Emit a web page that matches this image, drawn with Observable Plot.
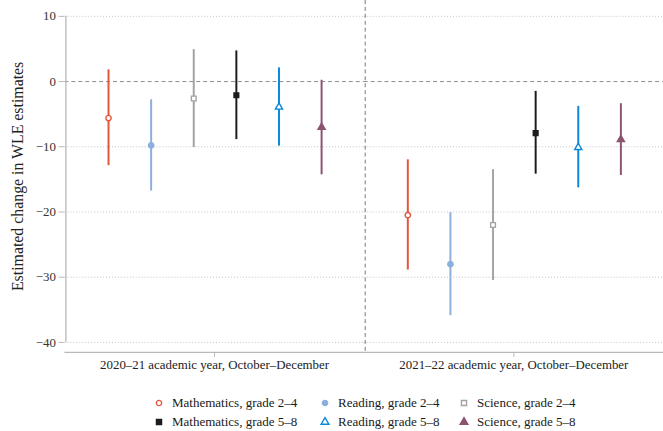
<!DOCTYPE html>
<html><head><meta charset="utf-8">
<script src="https://cdn.jsdelivr.net/npm/d3@7"></script>
<script src="https://cdn.jsdelivr.net/npm/@observablehq/plot@0.6"></script>
<style>
html,body{margin:0;padding:0;background:#fff;overflow:hidden;width:663px;height:431px}
#wrap{position:relative;width:663px;height:431px;overflow:hidden;font-family:"Liberation Serif","Times New Roman",serif;color:#1a1a1a}
#legend{position:absolute;left:0;top:385px;width:663px;height:46px}
.item{position:absolute;white-space:nowrap;display:flex;align-items:center}
.item span{font-family:"Liberation Serif","Times New Roman",serif;font-size:13px;line-height:16px;color:#1a1a1a}
.item svg{overflow:visible}
</style></head><body><div id="wrap"><div id="chart"></div><div id="legend"></div></div>
<script>
const PERIODS = ["2020\u201321 academic year, October\u2013December", "2021\u201322 academic year, October\u2013December"];
const SERIES = ["Mathematics, grade 2\u20134", "Reading, grade 2\u20134", "Science, grade 2\u20134",
                "Mathematics, grade 5\u20138", "Reading, grade 5\u20138", "Science, grade 5\u20138"];
const COLORS = ["#e4533b", "#8cafdc", "#a3a3a3", "#1c1c1c", "#0a88d8", "#8c5471"];
const SYMBOLS = ["circle", "circle", "square", "square", "triangle", "triangle"];
const HOLLOW = [true, false, true, false, true, false];

const EST_2020_21 = [-5.6, -9.8, -2.6, -2.1, -3.9, -7.0];
const LOW_2020_21 = [-12.9, -16.8, -10.1, -8.9, -9.9, -14.3];
const HIGH_2020_21 = [1.8, -2.8, 4.9, 4.7, 2.1, 0.2];
const EST_2021_22 = [-20.5, -28.0, -22.0, -7.9, -10.1, -8.9];
const LOW_2021_22 = [-28.9, -35.9, -30.5, -14.2, -16.3, -14.4];
const HIGH_2021_22 = [-12.0, -20.1, -13.5, -1.5, -3.8, -3.4];

const Y_TICKS = [-40, -30, -20, -10, 0, 10];
const GRID_TICKS = [-40, -30, -20, -10, 10];
const Y_LABEL = "Estimated change in WLE estimates";
const EDGE_LEFT = "\u2039edge", EDGE_RIGHT = "edge\u203a";

const EST = [EST_2020_21, EST_2021_22];
const LOW = [LOW_2020_21, LOW_2021_22];
const HIGH = [HIGH_2020_21, HIGH_2021_22];

const rows = [];
PERIODS.forEach((p, k) => SERIES.forEach((s, i) => rows.push({
  period: p, series: s, est: EST[k][i], lo: LOW[k][i], hi: HIGH[k][i],
  color: COLORS[i], symbol: SYMBOLS[i], fill: HOLLOW[i] ? "white" : COLORS[i]
})));

const yMin = d3.min(Y_TICKS), yMax = d3.max(Y_TICKS);
const axisLine = [{period: PERIODS[0], lo: yMin, hi: yMax}];
const divider = [{period: PERIODS[1]}];

const chart = Plot.plot({
  width: 669,
  height: 385,
  marginLeft: 65,
  marginRight: 0,
  marginTop: 0,
  marginBottom: 30,
  style: {fontFamily: "'Liberation Serif', 'Times New Roman', serif", fontSize: "13px", background: "white", color: "#333", overflow: "visible"},
  fx: {domain: PERIODS, padding: 0, label: null},
  x: {type: "point", domain: [EDGE_LEFT, ...SERIES, EDGE_RIGHT], padding: 0, axis: null},
  y: {domain: [yMin, yMax], insetTop: 16, insetBottom: 10},
  marks: [
    Plot.gridY({ticks: GRID_TICKS, stroke: "#c4c4c4", strokeOpacity: 1, strokeDasharray: "1,2"}),
    Plot.ruleY([0], {stroke: "#8c8c8c", strokeDasharray: "4,3"}),
    Plot.ruleX(axisLine, {fx: "period", x: () => EDGE_LEFT, y1: "lo", y2: "hi", stroke: "#b8b8b8", strokeWidth: 1.3}),
    Plot.ruleX(divider, {fx: "period", x: () => EDGE_LEFT, stroke: "#777", strokeDasharray: "4,3"}),
    Plot.ruleY([yMin], {dy: 10, stroke: "#b8b8b8", strokeWidth: 1.3}),
    Plot.ruleX(rows, {fx: "period", x: "series", y1: "lo", y2: "hi", stroke: "color", strokeWidth: 2}),
    Plot.dot(rows, {fx: "period", x: "series", y: "est", symbol: "symbol", stroke: "color", fill: "fill", r: 2.7, strokeWidth: 1.4}),
    Plot.axisY({ticks: Y_TICKS, tickSize: 6, tickPadding: 3, stroke: "#b8b8b8", fill: "#333", label: Y_LABEL, labelArrow: "none", labelAnchor: "center", labelOffset: 54}),
    Plot.axisFx({anchor: "bottom", tickSize: 5, tickPadding: 3, stroke: "#b8b8b8", fill: "#222", label: null})
  ]
});
document.getElementById("chart").appendChild(chart);
d3.select(chart).selectAll('[aria-label="y-axis label"] text')
  .text(Y_LABEL).style("font-size", "16px").attr("fill", "#222");

// legend
const COL_MARK = [159, 325, 464];
const ROW_Y = [403, 422];
const symMap = {circle: d3.symbolCircle, square: d3.symbolSquare, triangle: d3.symbolTriangle};
const legend = d3.select("#legend");
SERIES.forEach((s, i) => {
  const row = Math.floor(i / 3), col = i % 3;
  const item = legend.append("div").attr("class", "item")
    .style("left", (COL_MARK[col] - 5) + "px")
    .style("top", (ROW_Y[row] - 385 - 8) + "px");
  const svg = item.append("svg").attr("width", 10).attr("height", 10).style("margin-right", "8px");
  svg.append("path")
    .attr("transform", "translate(5,5)")
    .attr("d", d3.symbol(symMap[SYMBOLS[i]], SYMBOLS[i] === "circle" ? 22 : 26)())
    .attr("fill", HOLLOW[i] ? "white" : COLORS[i])
    .attr("stroke", COLORS[i])
    .attr("stroke-width", 1.4);
  item.append("span").text(s);
});
</script></body></html>
